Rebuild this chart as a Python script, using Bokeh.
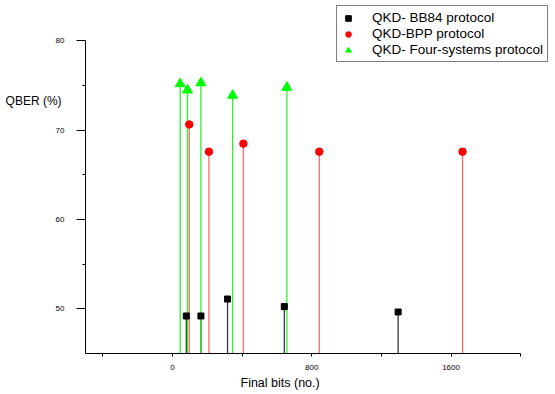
from bokeh.plotting import figure
from bokeh.models import Range1d, FixedTicker, Legend, LegendItem, Title
from bokeh.embed import file_html
from bokeh.resources import INLINE

# Data
bb84_bits = [79, 163, 316, 642, 1296]
bb84_qber = [49.2, 49.2, 51.1, 50.25, 49.65]
bpp_bits = [96, 209, 407, 843, 1666]
bpp_qber = [70.65, 67.6, 68.5, 67.6, 67.6]
four_bits = [44, 86, 163, 345, 657]
four_qber = [75.2, 74.5, 75.3, 73.9, 74.8]

x_major = [0, 800, 1600]
x_minor = [-400, 400, 1200, 2000]
y_major = [50, 60, 70, 80]
y_minor = [55, 65, 75]
X_MIN, X_MAX = -500, 2000
Y_MIN, Y_MAX = 45, 80
# visible window (frame extends beyond the axes so the legend can sit there)
X_VIEW_MAX = 2200
Y_VIEW_MAX = 84.53

FONT = "Liberation Sans"

p = figure(width=555, height=394, output_backend="svg", toolbar_location=None,
           x_range=Range1d(X_MIN, X_VIEW_MAX), y_range=Range1d(Y_MIN, Y_VIEW_MAX),
           min_border_left=85, min_border_right=0, min_border_top=0,
           min_border_bottom=41)
p.outline_line_color = None
p.xgrid.visible = False
p.ygrid.visible = False
p.background_fill_color = "white"
p.border_fill_color = "white"

for ax in (p.xaxis[0], p.yaxis[0]):
    ax.axis_line_color = "black"
    ax.axis_line_width = 1
    ax.major_tick_line_color = "black"
    ax.minor_tick_line_color = "black"
    ax.major_tick_in = 0
    ax.minor_tick_in = 0
    ax.major_label_text_font = FONT
    ax.major_label_text_font_size = "8px"
    ax.major_label_text_color = "black"

p.xaxis[0].bounds = (X_MIN, X_MAX)
p.yaxis[0].bounds = (Y_MIN, Y_MAX)
p.xaxis[0].ticker = FixedTicker(ticks=x_major, minor_ticks=x_minor)
p.yaxis[0].ticker = FixedTicker(ticks=y_major, minor_ticks=y_minor)
p.xaxis[0].major_tick_out = 3
p.xaxis[0].minor_tick_out = 3
p.xaxis[0].major_label_standoff = 8
p.yaxis[0].major_tick_out = 9
p.yaxis[0].minor_tick_out = 3
p.yaxis[0].major_label_standoff = 12

# y label: horizontal, lifted towards the top with trailing empty lines
yax = p.yaxis[0]
yax.axis_label = "QBER (%)" + "\n" * 9
yax.axis_label_orientation = "horizontal"
yax.axis_label_standoff = -9
yax.axis_label_text_font = FONT
yax.axis_label_text_font_size = "12px"
yax.axis_label_text_font_style = "normal"
yax.axis_label_text_color = "black"
yax.axis_label_text_line_height = 1.2

# x label as a title below the axis, shifted left like the reference
p.add_layout(Title(text="Final bits (no.)", align="left", offset=155,
                   standoff=3, text_font=FONT, text_font_size="12.5px",
                   text_font_style="normal", text_color="black"), "below")

def stems(bits, qber, color):
    p.segment(x0=bits, y0=[Y_MIN] * len(bits), x1=bits, y1=qber,
              line_color=color, line_width=1.3)

stems(bb84_bits, bb84_qber, "#3a3a3a")
stems(bpp_bits, bpp_qber, "#ff6a6a")
stems(four_bits, four_qber, "#30ee30")

r1 = p.scatter(bb84_bits, bb84_qber, marker="square", size=6,
               fill_color="black", line_color="black")
r2 = p.scatter(bpp_bits, bpp_qber, marker="circle", size=7.5,
               fill_color="red", line_color="red")
r3 = p.scatter(four_bits, four_qber, marker="triangle", size=10,
               fill_color="#00ff00", line_color="#00ff00")

legend = Legend(items=[LegendItem(label="QKD- BB84 protocol", renderers=[r1]),
                       LegendItem(label="QKD-BPP protocol", renderers=[r2]),
                       LegendItem(label="QKD- Four-systems protocol", renderers=[r3])],
                location=(251, 291))
legend.border_line_color = "black"
legend.border_line_width = 1
legend.background_fill_color = "white"
legend.background_fill_alpha = 1
legend.label_text_font = FONT
legend.label_text_font_size = "13.5px"
legend.label_text_color = "black"
legend.glyph_width = 14
legend.glyph_height = 14
legend.label_height = 14
legend.spacing = 1
legend.padding = 4
legend.margin = 0
legend.label_standoff = 17
p.add_layout(legend, "center")

open("out.html", "w").write(file_html(p, INLINE))
